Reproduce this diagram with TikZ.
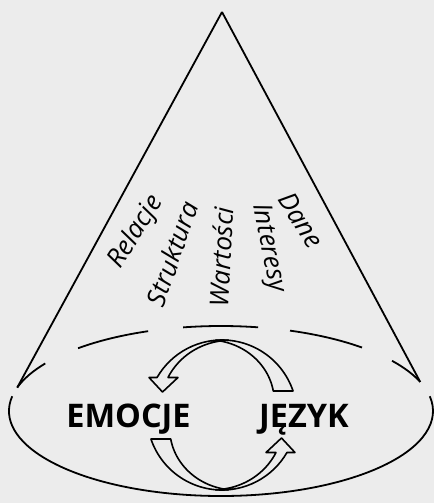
\documentclass[tikz,border=0pt]{standalone}
\usepackage{fontspec}
\setmainfont{Open Sans}
\definecolor{bgc}{RGB}{236,236,236}
\begin{document}
\begin{tikzpicture}[x=1pt,y=1pt,
  line width=1.8pt,
  lab/.style={font=\itshape\fontsize{26}{26}\selectfont, inner sep=0pt},
  big/.style={font=\bfseries\fontsize{32.5}{32.5}\selectfont, inner sep=0pt},
  arr/.style={fill=bgc, draw=black, line width=1.6pt, line join=round},
  circarrow/.pic={
    \filldraw[arr] (85:75) arc[start angle=85,end angle=150,radius=75]
      -- (-73,37.5) -- (-59.5,23) -- (-44,37.5) -- (145.2:65.75)
      -- plot[domain=145.2:85,samples=40] (\x:{75-9.25*(\x-85)/60.2}) -- cycle;
    \filldraw[arr] (18.66:75) -- (25.1:56.6)
      -- plot[domain=25.1:95,samples=40] (\x:{75-18.4*(95-\x)/69.9})
      arc[start angle=95,end angle=18.66,radius=75] -- cycle;
  }]
\fill[bgc] (0,0) rectangle (434,-503);
\useasboundingbox (0,0) rectangle (434,-503);

\coordinate (apex) at (222,-12);
\coordinate (E) at (221,-411);
\coordinate (C) at (222,-415);
\coordinate (L) at ([shift={(164:212 and 85)}]E);
\coordinate (R) at ([shift={(20:212 and 85)}]E);

% cone sides
\draw (apex) -- (L);
\draw (apex) -- (R);

% back (dashed) part of the base
\foreach \a/\b in {164/146, 132.4/110.1, 100.3/79.9, 71/48.3, 36.2/20}{
  \draw ([shift={(\a:212 and 85)}]E) arc[start angle=\a, end angle=\b, x radius=212, y radius=85];
}
% front part of the base
\draw ([shift={(170:212 and 85)}]E) arc[start angle=170, end angle=370, x radius=212, y radius=85];

% labels inside the cone
\node[lab, rotate=58] (relacje) at (136,-232) {Relacje};
\node[lab, rotate=71] (struktura) at (172,-254) {Struktura};
\node[lab, rotate=87] (wartosci) at (221,-257) {Wartości};
\node[lab, rotate=-79] (interesy) at (268,-248) {Interesy};
\node[lab, rotate=-58] (dane) at (301,-220) {Dane};

% main words
\node[big, anchor=base] (emocje) at (128.5,-427) {EMOCJE};
\node[big, anchor=base] (jezyk) at (304,-427) {JĘZYK};

% circular arrows
\pic at (C) {circarrow};
\pic[rotate=180] at (C) {circarrow};
\end{tikzpicture}
\end{document}
